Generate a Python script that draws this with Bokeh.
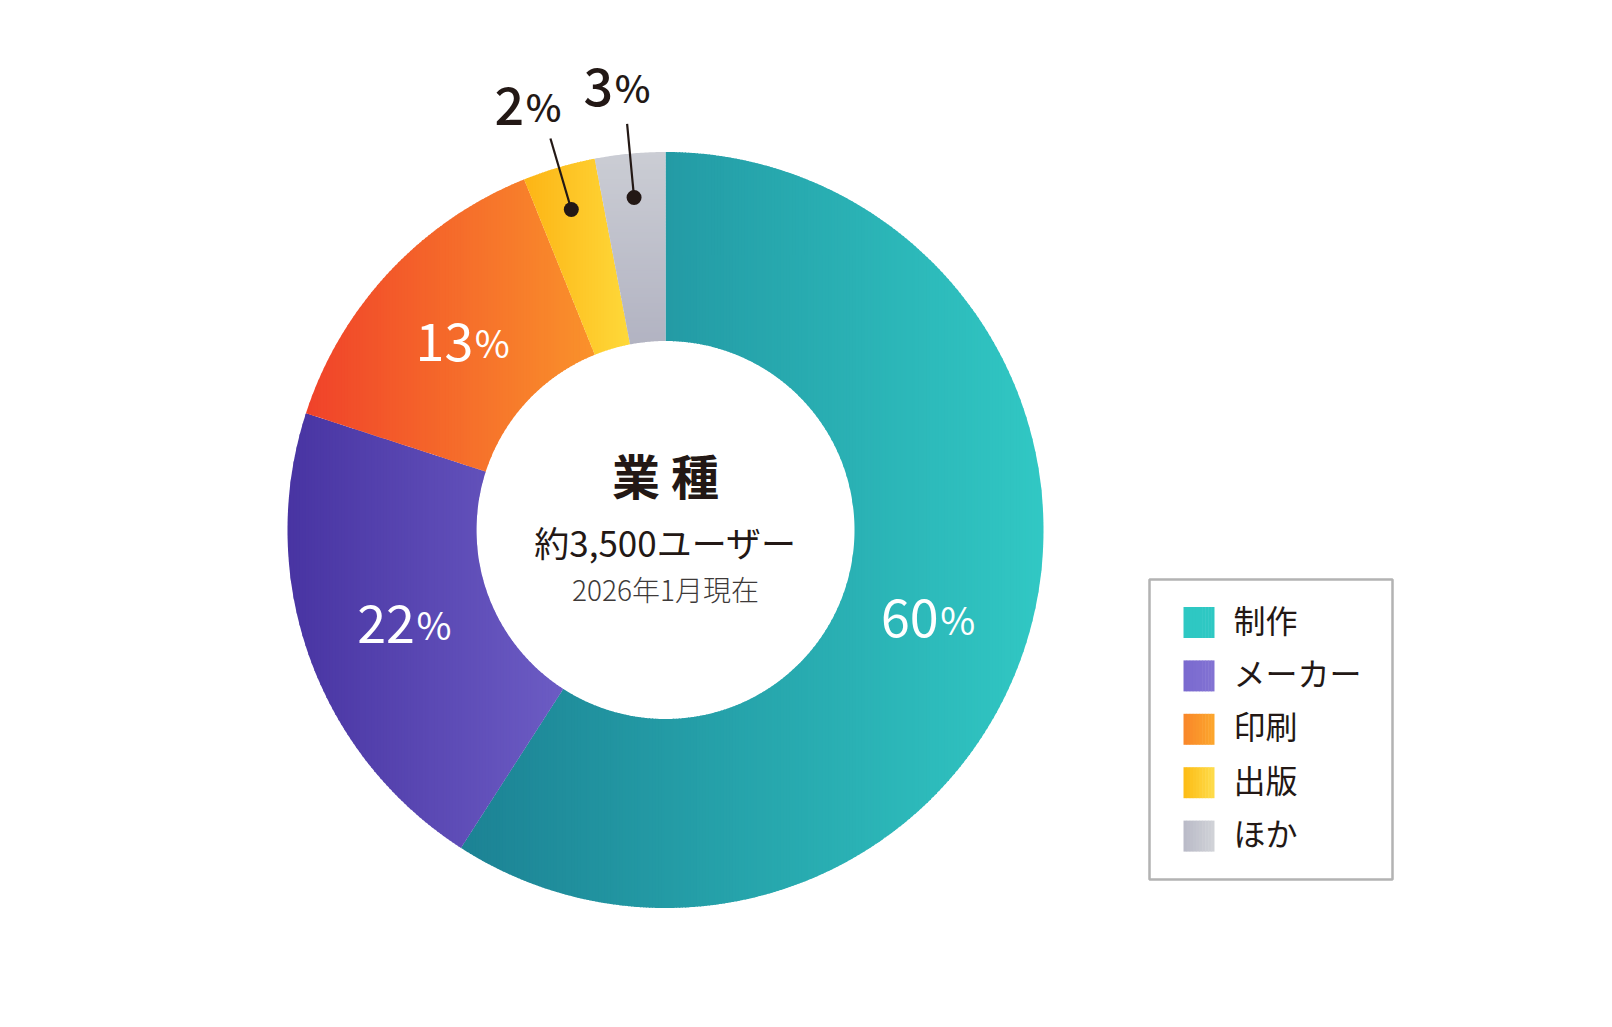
import math
from bokeh.plotting import figure
from bokeh.models import Range1d, ColumnDataSource
from bokeh.core.properties import value
from bokeh.embed import file_html
from bokeh.resources import INLINE

# ---------------- data ----------------
categories = ["制作", "メーカー", "印刷", "出版", "ほか"]
shares = [59.1, 20.9, 13.9, 3.1, 3.0]          # wedge sizes (%)
pct_labels = ["60", "22", "13", "2", "3"]      # printed percentages
grad_start = ["#1c8294", "#4834a2", "#f0422a", "#fdb515", "#cbcdd4"]
grad_end = ["#31c8c4", "#6c5cc4", "#fa922b", "#fed83a", "#b2b3c2"]
grad_dir = ["x", "x", "x", "x", "y"]
legend_start = ["#2ec8c3", "#7a6acf", "#f9862a", "#fdbb14", "#b9bac7"]
legend_end = ["#2ec8c3", "#8272d3", "#fca72c", "#fedd4c", "#d1d3d8"]
center_title = "業 種"
center_sub = "約3,500ユーザー"
center_date = "2026年1月現在"

FONT = value("Noto Sans CJK JP")
FONT_MED = value("Noto Sans CJK JP Medium, Noto Sans CJK JP")
FONT_LIGHT = value("Noto Sans CJK JP Light, Noto Sans CJK JP")
DARK = "#231815"

# ---------------- geometry / style ----------------
CX, CY = 665.0, 529.5
R_OUT, R_IN = 378.0, 189.0
TEXT_SHIFT = -18.0                       # alphabetic-baseline correction
LABEL_ANGLE_NUDGE = [2.0, 0.0, 0.0, -1.5, -0.8]


def hex2rgb(h):
    h = h.lstrip("#")
    return tuple(int(h[i:i + 2], 16) for i in (0, 2, 4))


def lerp_color(c0, c1, t):
    a, b = hex2rgb(c0), hex2rgb(c1)
    t = min(max(t, 0.0), 1.0)
    return "#%02x%02x%02x" % tuple(int(round(a[i] + (b[i] - a[i]) * t)) for i in range(3))


def pt(angle_deg, r):
    a = math.radians(angle_deg)
    return (CX + r * math.sin(a), CY - r * math.cos(a))


def annular_poly(a0, a1):
    n = max(8, int((a1 - a0) * 3))
    outer = [pt(a0 + (a1 - a0) * k / n, R_OUT) for k in range(n + 1)]
    inner = [pt(a1 - (a1 - a0) * k / n, R_IN) for k in range(n + 1)]
    return outer + inner


def clip_half(poly, axis, bound, keep_greater):
    def inside(p):
        return p[axis] >= bound if keep_greater else p[axis] <= bound

    def inter(p, c):
        t = (bound - p[axis]) / (c[axis] - p[axis])
        return (p[0] + t * (c[0] - p[0]), p[1] + t * (c[1] - p[1]))

    out = []
    n = len(poly)
    for i in range(n):
        cur, prev = poly[i], poly[i - 1]
        cin, pin = inside(cur), inside(prev)
        if cin:
            if not pin:
                out.append(inter(prev, cur))
            out.append(cur)
        elif pin:
            out.append(inter(prev, cur))
    return out


p = figure(width=1590, height=1005, x_range=Range1d(0, 1590), y_range=Range1d(1005, 0),
           output_backend="svg", toolbar_location=None, min_border=0,
           x_axis_location=None, y_axis_location=None)
p.grid.visible = False
p.outline_line_color = None
p.background_fill_color = "white"
p.border_fill_color = "white"

# ---------------- donut wedges with gradient strips ----------------
total = sum(shares)
xs, ys, cols = [], [], []
starts, ends = [], []
acc = 0.0
for i, s in enumerate(shares):
    a0 = acc / total * 360.0
    acc += s
    a1 = acc / total * 360.0
    starts.append(a0)
    ends.append(a1)
    poly = annular_poly(a0, a1)
    ax = 0 if grad_dir[i] == "x" else 1
    lo = min(q[ax] for q in poly)
    hi = max(q[ax] for q in poly)
    nstr = max(4, int(math.ceil((hi - lo) / 3.0)))
    step = (hi - lo) / nstr
    for k in range(nstr):
        s0 = lo + k * step
        s1 = min(hi, s0 + step + 0.9)   # slight overlap to hide seams
        piece = clip_half(poly, ax, s0, True)
        if len(piece) < 3:
            continue
        piece = clip_half(piece, ax, s1, False)
        if len(piece) < 3:
            continue
        xs.append([q[0] for q in piece])
        ys.append([q[1] for q in piece])
        cols.append(lerp_color(grad_start[i], grad_end[i], (k + 0.5) / nstr))

p.patches(xs="xs", ys="ys", fill_color="c", line_color=None,
          source=ColumnDataSource(dict(xs=xs, ys=ys, c=cols)))

# ---------------- percentage labels ----------------
NUM_SIZE, PCT_SIZE = 52, 38
inner = dict(nx=[], ny=[], nt=[], px=[], py=[])
outer = dict(nx=[], ny=[], nt=[], px=[], py=[])
lead_x0, lead_y0, lead_x1, lead_y1 = [], [], [], []
dot_x, dot_y = [], []
for i, lab in enumerate(pct_labels):
    mid = (starts[i] + ends[i]) / 2.0
    ang = mid + LABEL_ANGLE_NUDGE[i]
    if shares[i] >= 5:
        lx, ly = pt(ang, 277)
        tgt = inner
    else:
        lx, ly = pt(ang, 447)
        tgt = outer
        x0, y0 = pt(mid, 334)
        x1, y1 = pt(mid, 408)
        lead_x0.append(x0); lead_y0.append(y0)
        lead_x1.append(x1); lead_y1.append(y1)
        dot_x.append(x0); dot_y.append(y0)
    w_num = len(lab) * 0.555 * NUM_SIZE
    w_pct = 31.0
    split = lx + (w_num - w_pct) / 2.0 - 3
    base = ly + 0.365 * NUM_SIZE + TEXT_SHIFT
    tgt["nx"].append(split); tgt["ny"].append(base); tgt["nt"].append(lab)
    tgt["px"].append(split + 1.5); tgt["py"].append(base)

p.segment(x0=lead_x0, y0=lead_y0, x1=lead_x1, y1=lead_y1, line_color=DARK, line_width=2.2)
p.scatter(x=dot_x, y=dot_y, size=15, marker="circle", fill_color=DARK, line_color=None)

for d, color, font in ((inner, "white", FONT), (outer, DARK, FONT_MED)):
    p.text(x=d["nx"], y=d["ny"], text=d["nt"], text_color=color,
           text_font=font, text_font_size=value("%dpx" % NUM_SIZE), text_align="right",
           text_baseline="alphabetic")
    p.text(x=d["px"], y=d["py"], text=["%"] * len(d["px"]), text_color=color,
           text_font=font, text_font_size=value("%dpx" % PCT_SIZE), text_align="left",
           text_baseline="alphabetic")

# ---------------- centre texts ----------------
p.text(x=[CX], y=[CY - 56], text=[center_title], text_font=FONT, text_font_size=value("48px"),
       text_font_style="bold", text_color=DARK, text_align="center", text_baseline="middle")
p.text(x=[CX], y=[CY + 11], text=[center_sub], text_font=FONT, text_font_size=value("35px"),
       text_color=DARK, text_align="center", text_baseline="middle")
p.text(x=[CX], y=[CY + 59], text=[center_date], text_font=FONT_LIGHT, text_font_size=value("28px"),
       text_color="#3e3a39", text_align="center", text_baseline="middle")

# ---------------- legend ----------------
p.quad(left=[1149], right=[1392], top=[579], bottom=[879], fill_color=None,
       line_color="#b3b3b3", line_width=2.5)
lg_l, lg_r, lg_t, lg_b, lg_c = [], [], [], [], []
tx, ty = [], []
SQ_L, SQ_W = 1183.0, 31.0
for i, cat in enumerate(categories):
    yc = 622.0 + i * 53.4
    nst = 10
    for k in range(nst):
        lg_l.append(SQ_L + SQ_W * k / nst)
        lg_r.append(SQ_L + SQ_W * (k + 1) / nst + (0.5 if k < nst - 1 else 0))
        lg_t.append(yc - SQ_W / 2)
        lg_b.append(yc + SQ_W / 2)
        lg_c.append(lerp_color(legend_start[i], legend_end[i], (k + 0.5) / nst))
    tx.append(1233.0)
    ty.append(yc - 4)
p.quad(left="l", right="r", top="t", bottom="b", fill_color="c", line_color=None,
       source=ColumnDataSource(dict(l=lg_l, r=lg_r, t=lg_t, b=lg_b, c=lg_c)))
p.text(x=tx, y=ty, text=categories, text_font=FONT, text_font_size=value("32px"),
       text_color=DARK, text_align="left", text_baseline="middle")

open("out.html", "w").write(file_html(p, INLINE))
